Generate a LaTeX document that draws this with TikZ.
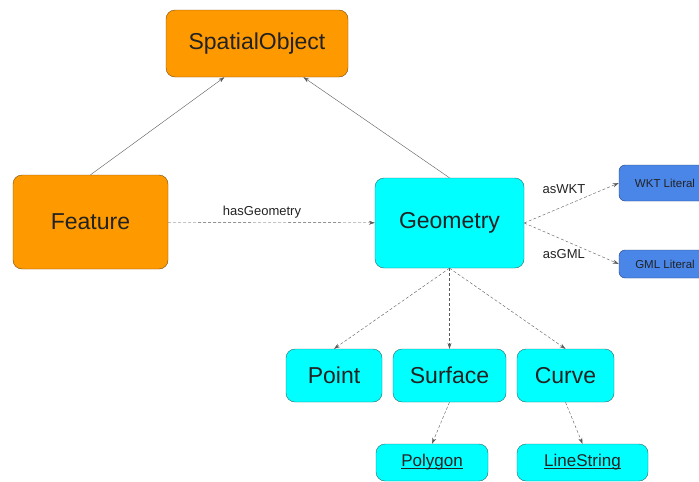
\documentclass[tikz,border=0pt]{standalone}
\usepackage{fontspec}
\setmainfont{Liberation Sans}
\usetikzlibrary{arrows.meta,calc}
\definecolor{classorange}{HTML}{FF9900}
\definecolor{orangeline}{HTML}{7A4A08}
\definecolor{geocyan}{HTML}{00FFFF}
\definecolor{cyanline}{HTML}{2A6A6A}
\definecolor{literalblue}{HTML}{4A86E8}
\definecolor{blueline}{HTML}{1F3F7A}
\definecolor{textdark}{HTML}{222222}
% underline that crosses the descenders
\newcommand{\ulined}[1]{\setbox0\hbox{#1}\rlap{\rule[-1.8pt]{\wd0}{0.8pt}}\box0}
\tikzset{
%Define standard arrow tip
>={Stealth[length=6pt,width=4pt]},
%Define style for the class boxes
class/.style={draw, rounded corners=9pt, inner sep=0pt, text=textdark},
top class/.style={class, fill=classorange, draw=orangeline, font=\fontsize{23}{27}\selectfont},
geo class/.style={class, fill=geocyan, draw=cyanline, font=\fontsize{23}{27}\selectfont},
geo leaf/.style={class, fill=geocyan, draw=cyanline, font=\fontsize{17}{20}\selectfont},
literal/.style={class, rounded corners=6pt, fill=literalblue, draw=blueline, font=\fontsize{11.5}{14}\selectfont},
%Define style for the connections
subclass/.style={->, gray!70!black},
property/.style={->, gray!70!black, dash pattern=on 3pt off 2pt},
edge label/.style={font=\fontsize{13}{15}\selectfont, text=textdark},
}

\begin{document}
\begin{tikzpicture}[x=1pt,y=-1pt]
% Fix the canvas
\useasboundingbox (0,0) rectangle (699,482);
\clip (0,0) rectangle (699,482);
% Draw the classes
\node[top class, minimum width=182pt, minimum height=67pt] (spatial) at (257,43.5) {SpatialObject};
\node[top class, minimum width=155pt, minimum height=94pt] (feature) at (90.5,222) {Feature};
\node[geo class, minimum width=149pt, minimum height=90pt] (geometry) at (449.5,223) {Geometry};
\node[literal, minimum width=92pt, minimum height=36pt] (wkt) at (665,183) {WKT Literal};
\node[literal, minimum width=92pt, minimum height=28pt] (gml) at (665,264) {GML Literal};
\node[geo class, minimum width=96pt, minimum height=53pt] (point) at (334,375.5) {Point};
\node[geo class, minimum width=113pt, minimum height=53pt] (surface) at (449.5,375.5) {Surface};
\node[geo class, minimum width=97pt, minimum height=53pt] (curve) at (565.5,375.5) {Curve};
\node[geo leaf, minimum width=112pt, minimum height=37pt] (polygon) at (432,462.5) {\ulined{Polygon}};
\node[geo leaf, minimum width=131pt, minimum height=37pt] (linestring) at (582.5,462.5) {\ulined{LineString}};
% Draw the subclass links
\draw[subclass] (feature.north) -- (spatial.226);
\draw[subclass] (geometry.north) -- (spatial.324);
% Draw the properties
\draw[property] (feature) -- node[edge label, pos=0.454, above=0.5pt] {hasGeometry} (geometry);
\draw[property] (geometry.east) -- node[edge label, pos=0.42, above=9pt] {asWKT} (wkt.west);
\draw[property] (geometry.east) -- node[edge label, pos=0.42, below=6pt] {asGML} (gml.west);
% Draw the geometry kinds
\draw[property] (geometry.south) -- (point.north);
\draw[property] (geometry.south) -- (surface.north);
\draw[property] (geometry.south) -- (curve.north);
\draw[property] (surface.south) -- (polygon.north);
\draw[property] (curve.south) -- (linestring.north);
\end{tikzpicture}
\end{document}
